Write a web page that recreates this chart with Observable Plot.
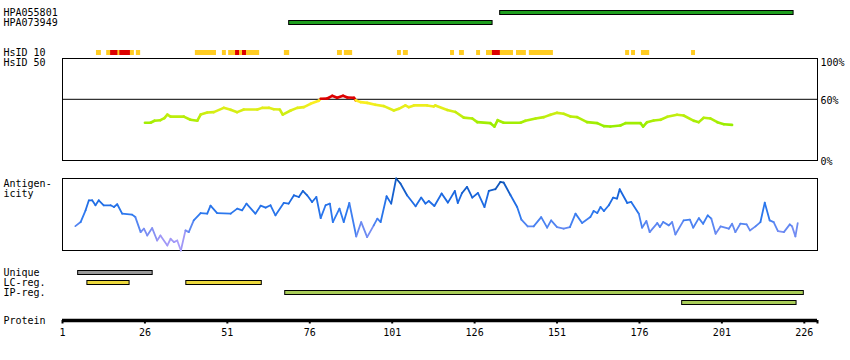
<!DOCTYPE html>
<html><head><meta charset="utf-8">
<script src="https://cdn.jsdelivr.net/npm/d3@7"></script>
<script src="https://cdn.jsdelivr.net/npm/@observablehq/plot@0.6"></script>
<style>
body{margin:0;background:#fff}
#chart{position:relative;width:850px;height:360px;font-family:"DejaVu Sans Mono",monospace;background:#fff}
#chart svg{position:absolute;left:0;top:0}
</style></head><body><div id="chart"></div>
<script>
// ---------- data (residue positions) ----------
const proteinLength = 229;
const axisTicks = [1, 26, 51, 76, 101, 126, 151, 176, 201, 226];

const antibodyNames = ["HPA055801", "HPA073949"];
const antibodyStart = [133.6, 69.6];
const antibodyEnd   = [222.9, 131.6];

const hsidRows = ["HsID 10", "HsID 50"];
const hsid10Moderate = [[11.3,12.8],[14.4,22.8],[23.4,24.7],[41.3,47.7],[49.5,50.7],[51.4,60.8],[68.3,69.9],[84.4,85.9],[86.5,89.0],[102.6,103.8],[104.4,105.9],[118.7,119.9],[121.4,122.9],[126.6,127.8],[129.6,137.8],[138.7,141.7],[142.6,149.9],[171.8,173.0],[173.6,174.8],[176.6,179.1],[191.8,193.0]];
const hsid10High = [[15.6,17.8],[18.4,21.6],[53.5,54.7],[55.6,56.8],[131.4,133.8]];

const simTicks = [0, 60, 100];
const similarityThreshold = 60;
// [residue, % identity]
const similarity = [[26,37],[27.7,37],[28.9,39],[30.7,39.5],[31.9,41.5],[32.8,45],[33.8,43],[37.8,43],[39.8,40],[41.9,39],[42.9,45],[44.9,47],[46.9,47.4],[49.9,51.6],[52,49.7],[54,47.4],[56,50],[60.1,50],[61.6,51.6],[63.6,51.6],[65.1,50.3],[66.9,50],[67.8,45],[70.2,49],[72.2,51.6],[74.2,52.3],[76.2,55.6],[78.7,58.5],[79.3,60.5],[81.3,60.8],[82.8,63.4],[84.3,61.5],[86.1,63.4],[87.4,61.8],[89.4,61.5],[89.9,59],[91.4,57.2],[93.4,56.5],[95.9,54.6],[98.5,53.3],[101.5,49],[103,50.7],[105,54],[106,52.3],[107.6,54],[111.6,54],[113.6,53],[114.1,54],[117.7,49.5],[120.2,47.6],[122.7,42],[125.3,41.2],[126.8,37.6],[130.8,36.6],[132,33.3],[133,39.5],[134.8,37],[139.9,37],[141.4,38.9],[144.5,41.2],[147,42.5],[149,44.8],[151,46.7],[153,45.8],[155.1,43.1],[157.1,42.5],[160.1,37.6],[163.2,36.6],[165.2,33.7],[167.2,33.3],[170.2,34.3],[171.8,36.6],[176.3,36.6],[177.1,33.3],[178.3,37.6],[180.3,39.2],[182.4,39.9],[184.4,42.8],[187.4,44.8],[189.4,44.1],[192.5,38.9],[194,37.6],[195.5,41.9],[197.5,41.2],[199.6,37.6],[201.6,35.6],[204.1,34.9]];

// [residue, relative antigenicity score]
const antigenicity = [[4.9,33.9],[6.5,39.5],[8,55.8],[9,69.7],[10,69.7],[11,62.8],[12,69.7],[13.5,62.8],[15.6,62.8],[16.6,60.4],[17.6,64.2],[19.1,51.2],[22.1,49.8],[23.1,46.4],[24.7,25.5],[25.7,30.3],[26.7,20.9],[28.2,31.1],[29.7,13.9],[30.7,20.9],[32.8,7],[33.8,16.3],[34.8,11.6],[35.8,13.9],[36.9,0],[38.3,27.9],[39.3,25.5],[40.8,41.8],[42.9,52],[44.9,51.2],[45.9,62.3],[47.9,52],[52,51.2],[54,58.2],[55.5,55.8],[56.8,65.1],[59.5,51.2],[61.1,62.3],[62.6,59.6],[64.1,62.8],[65.6,48.8],[68.1,66],[69.6,65.1],[71.2,76.7],[72.7,74.3],[73.9,82.7],[75.2,76.7],[76.7,67.4],[78,74.3],[79.3,45],[80.8,62.8],[82.1,65.1],[83,39.5],[85,58.2],[86.3,39.5],[88,66],[90.1,19.5],[91.6,39.5],[93.4,18.5],[95.4,34.9],[96.5,44.2],[97.5,39.5],[99.3,75.3],[100.7,65.1],[102.2,100],[103.5,93],[105.5,76.7],[108.1,61.4],[109.8,73.5],[111.1,65.1],[112.1,68.8],[113.8,61.8],[116,79.1],[117.9,66.5],[120,82.7],[120.9,66],[122.2,79.9],[123.7,88.3],[125.3,73.5],[127,79.9],[129,60.4],[130.3,82.7],[132.3,85.1],[133.8,95.3],[134.8,94.4],[136.9,76.7],[138.9,60.4],[140.2,42.8],[142.1,33.5],[143.9,33.5],[146.2,46.4],[148,31.7],[149.2,41.8],[151,32.5],[153,30.3],[154.9,32.5],[156.6,51.2],[158.6,38.1],[161.1,46.4],[162.1,54.8],[163.2,52],[164.2,60.4],[165.2,54.8],[166.7,62.8],[168,73.5],[169.2,72.1],[170,85.1],[172.3,66],[173.5,67.4],[175.8,51.2],[176.8,31.7],[178.1,40.9],[179.1,25.5],[181.4,38.1],[182.2,32.5],[183.2,39.5],[184.9,34.9],[185.9,39.5],[186.9,22.3],[189.4,41.8],[191.3,42.8],[192.3,31.7],[194,45],[195.3,37.2],[196.7,48.8],[197.8,44.2],[199.1,23.3],[200.6,33.5],[203.1,30.3],[204.1,37.2],[205.1,25.5],[206.6,37.2],[208.5,36.3],[209.5,27.9],[211.2,33.5],[212.7,39.5],[214,66.5],[215.5,41.8],[216.7,39.5],[218,26.9],[219.8,25.5],[221.6,36.3],[222.3,33.5],[223.3,19.5],[224,38.1]];

const regionLabels = ["Unique", "LC-reg.", "IP-reg."];
const regionRow   = [0, 1, 1, 2, 3];
const regionKind  = ["Unique", "LC-reg.", "LC-reg.", "IP-reg.", "IP-reg."];
const regionStart = [5.6, 8.4, 38.4, 68.4, 188.8];
const regionEnd   = [28.5, 21.5, 61.6, 226.0, 223.8];

// ---------- styling ----------
const W = 850, H = 360;
const FONT = "DejaVu Sans Mono, monospace";
const regionColor = {"Unique": "#9a9a9a", "LC-reg.": "#ecd83c", "IP-reg.": "#a8cc58"};
const simColor = d3.scaleLinear().domain([35, 58]).range(["#99ee00", "#ffee22"]).clamp(true);
const simStroke = v => v >= similarityThreshold ? "#dd0000" : simColor(v);
const antColor = d3.scaleLinear().domain([0, 18, 32, 48, 75, 100])
  .range(["#b4a4ff", "#9a94f4", "#6088f2", "#2f7af0", "#1a68e0", "#0a4ca4"]).clamp(true);

function base(extra) {
  return Object.assign({
    width: W, height: H, marginLeft: 62, marginRight: 33,
    x: {domain: [1, proteinLength + 1], axis: null},
    color: {type: "identity"},
    style: {background: "transparent", fontFamily: FONT, fontSize: "10px", color: "black", overflow: "visible"}
  }, extra);
}
const label = (rows, extra) => Plot.text(rows, Object.assign({y: d => d, text: d => d, frameAnchor: "left", dx: -59, textAnchor: "start", fill: "black"}, extra));

const chart = document.getElementById("chart");

// antibodies
const abData = antibodyNames.map((n, i) => ({name: n, s: antibodyStart[i], e: antibodyEnd[i]}));
chart.append(Plot.plot(base({
  marginTop: 7.5, marginBottom: H - 27.5,
  y: {type: "band", domain: antibodyNames, paddingInner: 0.5, paddingOuter: 0.25, axis: null},
  marks: [
    Plot.barX(abData, {x1: "s", x2: "e", y: "name", fill: "#1e9e1e", stroke: "black", strokeWidth: 1, inset: 0.5}),
    label(antibodyNames)
  ]
})));

// HsID
chart.append(Plot.plot(base({
  marginTop: 47.5, marginBottom: H - 67.5,
  y: {type: "band", domain: hsidRows, paddingInner: 0.5, paddingOuter: 0.25, axis: null},
  marks: [
    Plot.barX(hsid10Moderate, {x1: d => d[0], x2: d => d[1], y: () => hsidRows[0], fill: "#ffcc22"}),
    Plot.barX(hsid10High, {x1: d => d[0], x2: d => d[1], y: () => hsidRows[0], fill: "#dd0000"}),
    label(hsidRows)
  ]
})));

// similarity
const simSeg = d3.pairs(similarity).map(([a, b]) => ({x1: a[0], y1: a[1], x2: b[0], y2: b[1], v: (a[1] + b[1]) / 2}));
chart.append(Plot.plot(base({
  marginTop: 58, marginBottom: H - 160,
  y: {domain: [0, 100], axis: null},
  marks: [
    Plot.frame({stroke: "black", strokeWidth: 1}),
    Plot.ruleY([similarityThreshold], {stroke: "black", strokeWidth: 1}),
    Plot.link(simSeg, {x1: "x1", y1: "y1", x2: "x2", y2: "y2", stroke: d => simStroke(d.v), strokeWidth: 2.6, strokeLinecap: "round"}),
    Plot.text(simTicks.filter(t => t === 100), {y: d => d, text: d => d + "%", frameAnchor: "right", dx: 3, dy: 4, textAnchor: "start", fill: "black"}),
    Plot.text(simTicks.filter(t => t !== 100), {y: d => d, text: d => d + "%", frameAnchor: "right", dx: 3, dy: 1, textAnchor: "start", fill: "black"})
  ]
})));

// antigenicity
const antSeg = d3.pairs(antigenicity).map(([a, b]) => ({x1: a[0], y1: a[1], x2: b[0], y2: b[1], v: (a[1] + b[1]) / 2}));
chart.append(Plot.plot(base({
  marginTop: 178, marginBottom: H - 250,
  y: {domain: [0, 100], axis: null},
  marks: [
    Plot.frame({stroke: "black", strokeWidth: 1}),
    Plot.link(antSeg, {x1: "x1", y1: "y1", x2: "x2", y2: "y2", stroke: d => antColor(d.v), strokeWidth: 1.8, strokeLinecap: "round"}),
    Plot.text(["Antigen-\nicity"], {frameAnchor: "top-left", dx: -59, dy: 1, textAnchor: "start", lineAnchor: "top", lineHeight: 1, fill: "black"})
  ]
})));

// regions
const regData = regionRow.map((r, i) => ({row: r, kind: regionKind[i], s: regionStart[i], e: regionEnd[i]}));
chart.append(Plot.plot(base({
  marginTop: 267.5, marginBottom: H - 307.5,
  y: {type: "band", domain: [0, 1, 2, 3], paddingInner: 0.5, paddingOuter: 0.25, axis: null},
  marks: [
    Plot.barX(regData, {x1: "s", x2: "e", y: "row", fill: d => regionColor[d.kind], stroke: "black", strokeWidth: 1, inset: 0.5}),
    Plot.text(regionLabels, {y: (d, i) => i, text: d => d, frameAnchor: "left", dx: -59, textAnchor: "start", fill: "black"})
  ]
})));

// protein axis
chart.append(Plot.plot(base({
  marginTop: 300, marginBottom: H - 320,
  x: {domain: [1, proteinLength + 1]},
  y: {domain: [0, 1], axis: null},
  marks: [
    Plot.ruleY([0], {x1: 1, x2: proteinLength + 1, stroke: "black", strokeWidth: 3.5}),
    Plot.axisX({anchor: "bottom", ticks: [...axisTicks, proteinLength + 1], tickFormat: d => axisTicks.includes(d) ? String(d) : "", tickSize: 3.5, tickPadding: 4.5, strokeWidth: 2, fill: "black", stroke: "black"}),
    Plot.text(["Protein"], {frameAnchor: "bottom-left", dx: -59, dy: 0, textAnchor: "start", lineAnchor: "middle", fill: "black"})
  ]
})));
</script></body></html>
